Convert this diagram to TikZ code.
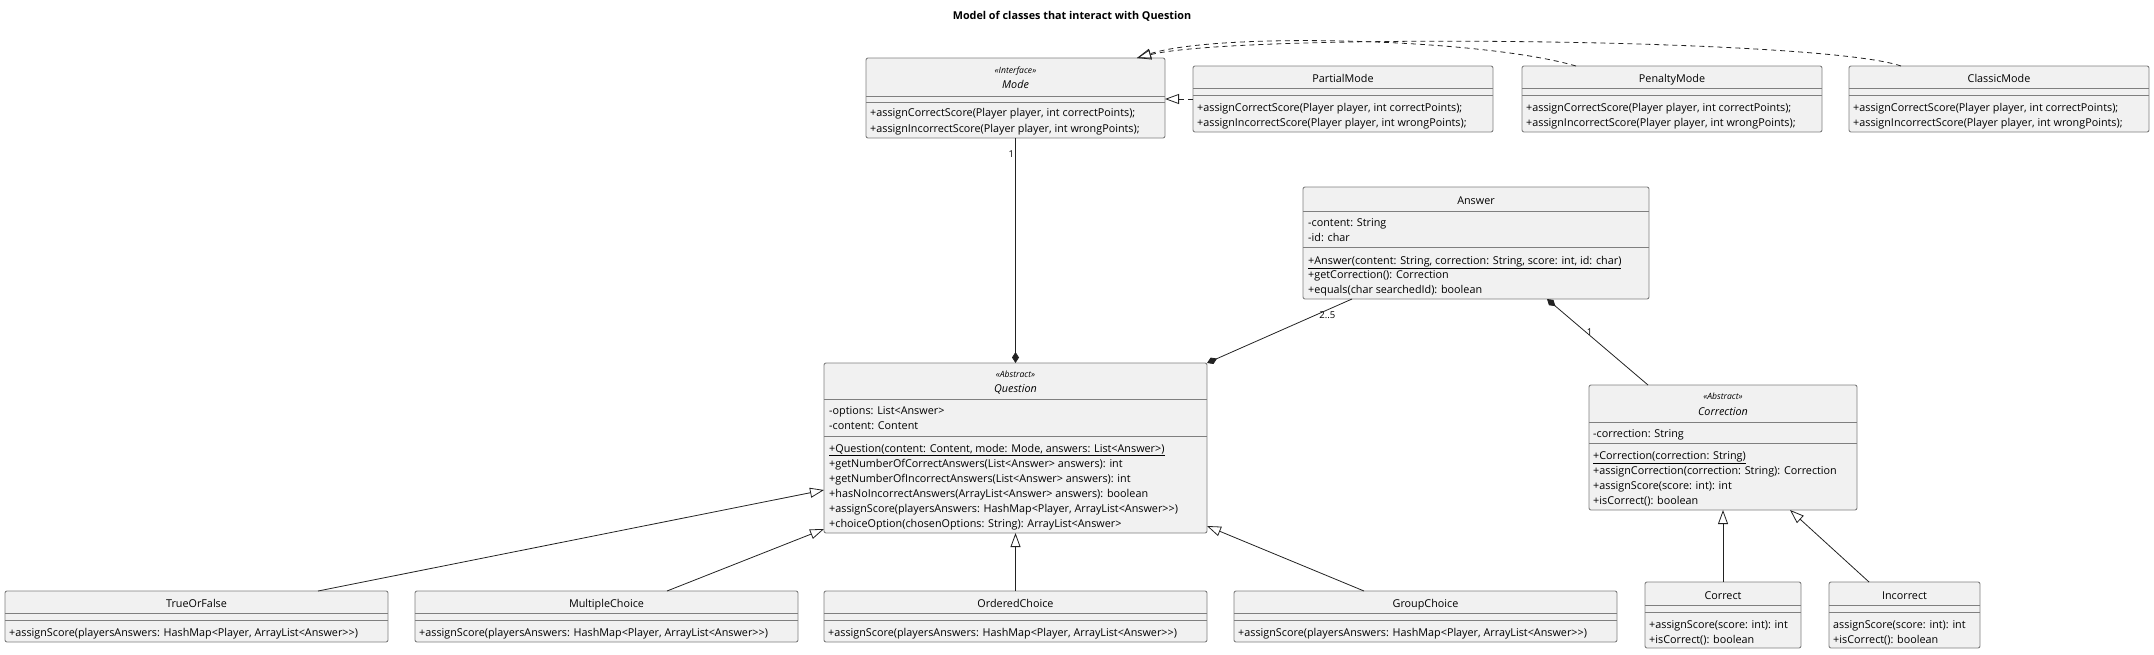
\documentclass[tikz,border=0pt]{standalone}
\usepackage{fontspec}
\setmainfont{Open Sans}
\usetikzlibrary{calc,positioning,arrows.meta}

\definecolor{boxfill}{HTML}{F1F1F1}
\definecolor{boxline}{HTML}{7F7F7F}
\definecolor{linkcol}{HTML}{222222}

\tikzset{
  cls/.style={draw=boxline, fill=boxfill, line width=0.9pt, rounded corners=2pt,
    inner sep=0pt, outer sep=0pt, anchor=north west},
  divider/.style={draw=boxline, line width=0.9pt},
  txt/.style={inner sep=0pt, anchor=base west, font=\fontsize{10.8}{12}\selectfont},
  clsname/.style={inner sep=0pt, anchor=base, font=\fontsize{10.8}{12}\selectfont},
  absname/.style={clsname, font=\fontsize{10.8}{12}\selectfont\itshape},
  stereo/.style={inner sep=0pt, anchor=base, font=\fontsize{8.6}{9}\selectfont\itshape},
  mult/.style={inner sep=1pt, font=\fontsize{9.5}{10}\selectfont},
  link/.style={draw=linkcol, line width=0.8pt},
  inherit/.style={link, -{Triangle[open, length=14pt, width=10pt]}},
  realize/.style={inherit, dash pattern=on 5pt off 4pt},
  compose/.style={link, -{Diamond[length=11pt, width=7pt]}}
}

\begin{document}
\begin{tikzpicture}[x=1pt, y=-1pt]
\useasboundingbox (0,0) rectangle (2154,654);

\node[font=\fontsize{10.8}{12}\selectfont\bfseries] (title) at (1072,16) {Model of classes that interact with Question};

% Interface Mode
\node[cls, minimum width=299pt, minimum height=80pt] (mode) at (866,58) {};
\draw[divider] ($(mode.north west)+(0,38)$) -- ($(mode.north east)+(0,38)$);
\draw[divider] ($(mode.north west)+(0,44)$) -- ($(mode.north east)+(0,44)$);
\node[stereo] (mode-st) at ($(mode.north)+(0,15)$) {«Interface»};
\node[absname] (mode-name) at ($(mode.north)+(0,30)$) {Mode};
\node[txt] (mode-m1) at ($(mode.north west)+(4,58)$) {+assignCorrectScore(Player player, int correctPoints);};
\node[txt] (mode-m2) at ($(mode.north west)+(4,74)$) {+assignIncorrectScore(Player player, int wrongPoints);};

% Mode implementations
\foreach \cl/\lbl/\xx in {partial/PartialMode/1193, penalty/PenaltyMode/1522, classic/ClassicMode/1849} {
  \node[cls, minimum width=300pt, minimum height=66pt] (\cl) at (\xx,66) {};
  \draw[divider] ($(\cl.north west)+(0,22)$) -- ($(\cl.north east)+(0,22)$);
  \draw[divider] ($(\cl.north west)+(0,29)$) -- ($(\cl.north east)+(0,29)$);
  \node[clsname] (\cl-name) at ($(\cl.north)+(0,16.5)$) {\lbl};
  \node[txt] (\cl-m1) at ($(\cl.north west)+(4,45)$) {+assignCorrectScore(Player player, int correctPoints);};
  \node[txt] (\cl-m2) at ($(\cl.north west)+(4,60)$) {+assignIncorrectScore(Player player, int wrongPoints);};
}

% Abstract Question
\node[cls, minimum width=383pt, minimum height=170pt] (question) at (824,363) {};
\draw[divider] ($(question.north west)+(0,36)$) -- ($(question.north east)+(0,36)$);
\draw[divider] ($(question.north west)+(0,73)$) -- ($(question.north east)+(0,73)$);
\node[stereo] (question-st) at ($(question.north)+(0,14)$) {«Abstract»};
\node[absname] (question-name) at ($(question.north)+(0,29)$) {Question};
\node[txt] (question-a1) at ($(question.north west)+(5,51)$) {-options: List<Answer>};
\node[txt] (question-a2) at ($(question.north west)+(5,66)$) {-content: Content};
\node[txt] (question-m1) at ($(question.north west)+(5,89)$) {\underline{+Question(content: Content, mode: Mode, answers: List<Answer>)}};
\node[txt] (question-m2) at ($(question.north west)+(5,104)$) {+getNumberOfCorrectAnswers(List<Answer> answers): int};
\node[txt] (question-m3) at ($(question.north west)+(5,119)$) {+getNumberOfIncorrectAnswers(List<Answer> answers): int};
\node[txt] (question-m4) at ($(question.north west)+(5,134)$) {+hasNoIncorrectAnswers(ArrayList<Answer> answers): boolean};
\node[txt] (question-m5) at ($(question.north west)+(5,149)$) {+assignScore(playersAnswers: HashMap<Player, ArrayList<Answer>{}>)};
\node[txt] (question-m6) at ($(question.north west)+(5,164)$) {+choiceOption(chosenOptions: String): ArrayList<Answer>};

% Answer
\node[cls, minimum width=346pt, minimum height=112pt] (answer) at (1303,187) {};
\draw[divider] ($(answer.north west)+(0,24)$) -- ($(answer.north east)+(0,24)$);
\draw[divider] ($(answer.north west)+(0,60)$) -- ($(answer.north east)+(0,60)$);
\node[clsname] (answer-name) at ($(answer.north)+(0,17)$) {Answer};
\node[txt] (answer-a1) at ($(answer.north west)+(5,39)$) {-content: String};
\node[txt] (answer-a2) at ($(answer.north west)+(5,54)$) {-id: char};
\node[txt] (answer-m1) at ($(answer.north west)+(5,77)$) {\underline{+Answer(content: String, correction: String, score: int, id: char)}};
\node[txt] (answer-m2) at ($(answer.north west)+(5,91)$) {+getCorrection(): Correction};
\node[txt] (answer-m3) at ($(answer.north west)+(5,106)$) {+equals(char searchedId): boolean};

% Abstract Correction
\node[cls, minimum width=268pt, minimum height=125pt] (correction) at (1589,385) {};
\draw[divider] ($(correction.north west)+(0,37)$) -- ($(correction.north east)+(0,37)$);
\draw[divider] ($(correction.north west)+(0,58)$) -- ($(correction.north east)+(0,58)$);
\node[stereo] (correction-st) at ($(correction.north)+(0,14)$) {«Abstract»};
\node[absname] (correction-name) at ($(correction.north)+(0,30)$) {Correction};
\node[txt] (correction-a1) at ($(correction.north west)+(4,52)$) {-correction: String};
\node[txt] (correction-m1) at ($(correction.north west)+(4,74)$) {\underline{+Correction(correction: String)}};
\node[txt] (correction-m2) at ($(correction.north west)+(4,89)$) {+assignCorrection(correction: String): Correction};
\node[txt] (correction-m3) at ($(correction.north west)+(4,104)$) {+assignScore(score: int): int};
\node[txt] (correction-m4) at ($(correction.north west)+(4,119)$) {+isCorrect(): boolean};

% Correct and Incorrect
\foreach \cl/\lbl/\xx/\ww/\sc in {correct/Correct/1645/156/+, incorrect/Incorrect/1829/151/} {
  \node[cls, minimum width=\ww pt, minimum height=66pt] (\cl) at (\xx,582) {};
  \draw[divider] ($(\cl.north west)+(0,23)$) -- ($(\cl.north east)+(0,23)$);
  \draw[divider] ($(\cl.north west)+(0,30)$) -- ($(\cl.north east)+(0,30)$);
  \node[clsname] (\cl-name) at ($(\cl.north)+(0,17)$) {\lbl};
  \node[txt] (\cl-m1) at ($(\cl.north west)+(4,46)$) {\sc assignScore(score: int): int};
  \node[txt] (\cl-m2) at ($(\cl.north west)+(4,61)$) {+isCorrect(): boolean};
}

% Question subclasses
\foreach \cl/\lbl/\xx in {truefalse/TrueOrFalse/5, multiple/MultipleChoice/415, ordered/OrderedChoice/824, group/GroupChoice/1234} {
  \node[cls, minimum width=383pt, minimum height=51pt] (\cl) at (\xx,591) {};
  \draw[divider] ($(\cl.north west)+(0,22)$) -- ($(\cl.north east)+(0,22)$);
  \draw[divider] ($(\cl.north west)+(0,29)$) -- ($(\cl.north east)+(0,29)$);
  \node[clsname] (\cl-name) at ($(\cl.north)+(0,16.5)$) {\lbl};
  \node[txt] (\cl-m1) at ($(\cl.north west)+(4,45)$) {+assignScore(playersAnswers: HashMap<Player, ArrayList<Answer>{}>)};
}

% Realizations of Mode
\draw[realize] (partial.west) -- (partial.west -| mode.east);
\draw[realize] ($(penalty.north west)+(54,0)$) .. controls +(-96,-28) and +(80,-26) .. ($(mode.north east)+(-28,0)$);
\draw[realize] ($(classic.north west)+(52,0)$) .. controls +(-81,-28) and +(100,-25) .. ($(mode.north east)+(-28,0)$);

% Compositions
\draw[compose] (mode.south) -- (question.north) node[mult, pos=0.07, left] {1};
\draw[compose] ($(answer.south west)+(49,0)$) -- (question.north east) node[mult, pos=0.17, below] {2..5};
\draw[compose] ($(correction.north west)+(59,0)$) -- ($(answer.south west)+(244,0)$) node[mult, pos=0.62, right] {1};

% Generalizations
\draw[inherit] (correct.north) -- (correct.north |- correction.south);
\draw[inherit] ($(incorrect.north west)+(40,0)$) -- ($(correction.south west)+(201,0)$);
\draw[inherit] ($(truefalse.north west)+(313,0)$) -- ($(question.north west)+(0,127)$);
\draw[inherit] ($(multiple.north west)+(252,0)$) -- ($(question.north west)+(0,166)$);
\draw[inherit] (ordered.north) -- (question.south);
\draw[inherit] ($(group.north west)+(130,0)$) -- ($(question.north east)+(0,163)$);

\end{tikzpicture}
\end{document}
